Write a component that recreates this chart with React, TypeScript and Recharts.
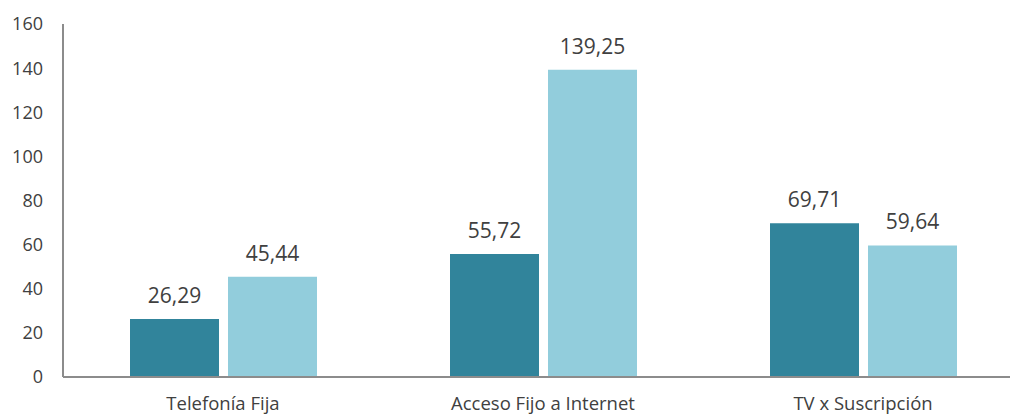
import { Bar, BarChart, LabelList, XAxis, YAxis } from "recharts"

// Categories and the two series
const categories = ["Telefonía Fija", "Acceso Fijo a Internet", "TV x Suscripción"]
const serieA = [26.29, 55.72, 69.71]
const serieB = [45.44, 139.25, 59.64]
const yTicks = [0, 20, 40, 60, 80, 100, 120, 140, 160]

const data = categories.map((name, i) => ({ name, a: serieA[i], b: serieB[i] }))

const fmt = (v: any) => Number(v).toFixed(2).replace(".", ",")

const font = "'Open Sans', sans-serif"

export default function App() {
  return (
    <div style={{ position: "absolute", left: 0, top: 0, width: 1010, height: 416, overflow: "hidden", background: "#fff" }}>
      <BarChart
        width={1030}
        height={416}
        data={data}
        margin={{ top: 24, right: 7, bottom: 0, left: 0 }}
        barSize={89}
        barGap={9}
      >
        <XAxis
          dataKey="name"
          height={39}
          axisLine={{ stroke: "#8c8c8c", strokeWidth: 2 }}
          tickLine={false}
          tickSize={0}
          tickMargin={20}
          tick={{ fill: "#404040", fontSize: 18.5, fontFamily: font }}
          interval={0}
        />
        <YAxis
          domain={[0, 160]}
          ticks={yTicks}
          width={63}
          axisLine={{ stroke: "#8c8c8c", strokeWidth: 2 }}
          tickLine={false}
          tickSize={0}
          tickMargin={20}
          tick={{ fill: "#404040", fontSize: 18, fontFamily: font }}
        />
        <Bar dataKey="a" fill="#31849B" isAnimationActive={false}>
          <LabelList dataKey="a" position="top" offset={16} formatter={fmt} fill="#404040" fontSize={21} fontFamily={font} />
        </Bar>
        <Bar dataKey="b" fill="#92CDDC" isAnimationActive={false}>
          <LabelList dataKey="b" position="top" offset={16} formatter={fmt} fill="#404040" fontSize={21} fontFamily={font} />
        </Bar>
      </BarChart>
    </div>
  )
}
